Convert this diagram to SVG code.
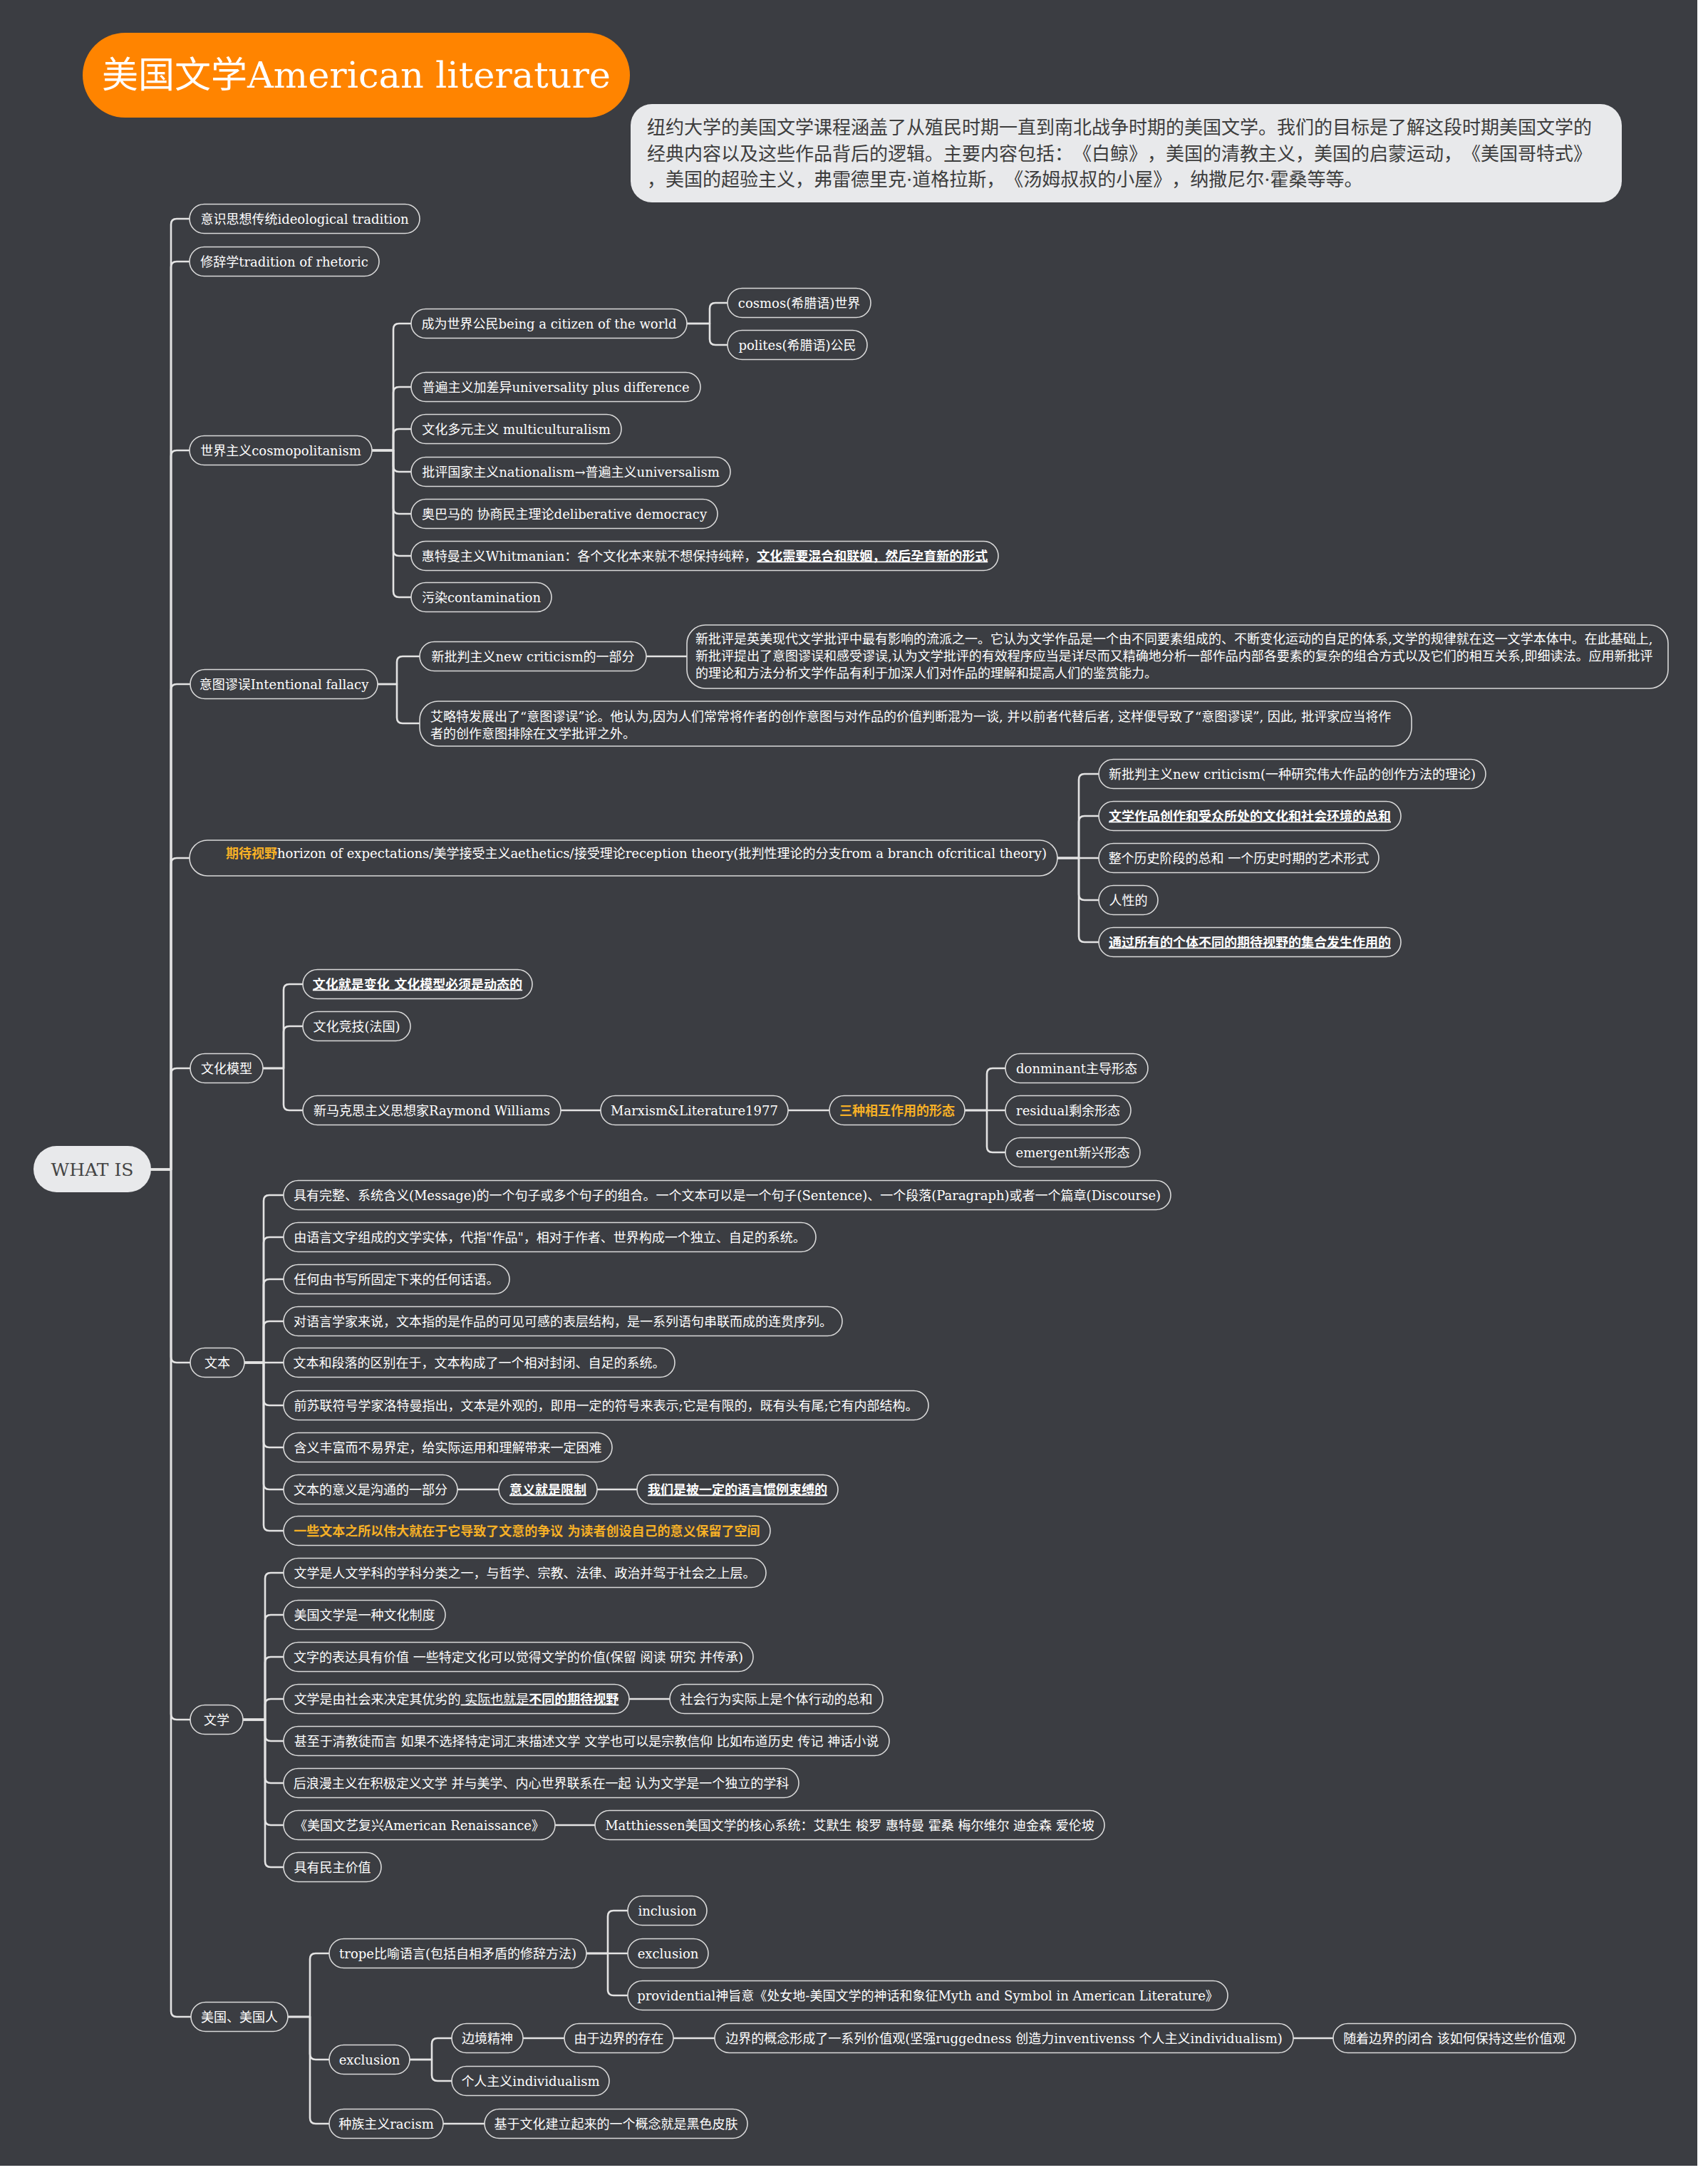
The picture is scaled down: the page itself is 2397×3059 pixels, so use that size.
<svg xmlns="http://www.w3.org/2000/svg" width="2397" height="3059" viewBox="0 0 2397 3059">
<style>
text{text-spacing-trim:space-all}
.n{fill:#3b3d42;stroke:#d9d9d9;stroke-width:1.6}
.t{font-family:"DejaVu Serif","Noto Sans CJK SC",serif;font-size:18px;fill:#ffffff;text-anchor:middle}
.tl{font-family:"DejaVu Serif","Noto Sans CJK SC",serif;font-size:18px;fill:#ffffff;text-anchor:start}
.b{font-weight:bold}
.u{text-decoration:underline}
.o{fill:#f6b026;font-weight:bold}
.c{fill:none;stroke:#e3e3e3;stroke-width:2.6;stroke-linecap:round;stroke-linejoin:round}
</style>
<rect x="0" y="0" width="2397" height="3059" fill="#ffffff"/>
<rect x="0" y="0" width="2382" height="3039" fill="#3b3d42"/>

<g id="title">
<rect x="116" y="46" width="768" height="119" rx="59.5" fill="#ff8400"/>
<text x="500" y="123" font-family="DejaVu Serif,Noto Sans CJK SC,serif" font-size="51" fill="#ffffff" text-anchor="middle">美国文学American literature</text>
</g>
<g id="description">
<rect x="885" y="146" width="1391" height="138" rx="30" fill="#e8e9eb"/>
<text font-family="DejaVu Serif,Noto Sans CJK SC,serif" font-size="26" fill="#3d3d3d">
<tspan x="908" y="188">纽约大学的美国文学课程涵盖了从殖民时期一直到南北战争时期的美国文学。我们的目标是了解这段时期美国文学的</tspan>
<tspan x="908" y="225">经典内容以及这些作品背后的逻辑。主要内容包括：《白鲸》，美国的清教主义，美国的启蒙运动，《美国哥特式》</tspan>
<tspan x="908" y="261">，美国的超验主义，弗雷德里克·道格拉斯，《汤姆叔叔的小屋》，纳撒尼尔·霍桑等等。</tspan>
</text>
</g>

<g id="connectors">
<path class="c" d="M212 1641H240V315Q240 307 248 307H266"/>
<path class="c" d="M212 1641H240V375Q240 367 248 367H266"/>
<path class="c" d="M212 1641H240V640Q240 632 248 632H266"/>
<path class="c" d="M212 1641H240V968Q240 960 248 960H267"/>
<path class="c" d="M212 1641H240V1212Q240 1204 248 1204H266"/>
<path class="c" d="M212 1641H240V1507Q240 1499 248 1499H267"/>
<path class="c" d="M212 1641H240V1904Q240 1912 248 1912H267"/>
<path class="c" d="M212 1641H240V2405Q240 2413 248 2413H267"/>
<path class="c" d="M212 1641H240V2822Q240 2830 248 2830H268"/>

<path class="c" d="M522 632H552V462Q552 454 560 454H577"/>
<path class="c" d="M522 632H552V551Q552 543 560 543H577"/>
<path class="c" d="M522 632H552V610Q552 602 560 602H577"/>
<path class="c" d="M522 632H552V654Q552 662 560 662H577"/>
<path class="c" d="M522 632H552V713Q552 721 560 721H577"/>
<path class="c" d="M522 632H552V772Q552 780 560 780H577"/>
<path class="c" d="M522 632H552V830Q552 838 560 838H577"/>
<path class="c" d="M964 454H996V433Q996 425 1004 425H1021"/>
<path class="c" d="M964 454H996V476Q996 484 1004 484H1021"/>

<path class="c" d="M530 960H557V929Q557 921 565 921H589"/>
<path class="c" d="M530 960H557V1007Q557 1015 565 1015H589"/>
<path class="c" d="M907 921H964"/>

<path class="c" d="M1484 1204H1514V1094Q1514 1086 1522 1086H1542"/>
<path class="c" d="M1484 1204H1514V1153Q1514 1145 1522 1145H1542"/>
<path class="c" d="M1484 1204H1542"/>
<path class="c" d="M1484 1204H1514V1255Q1514 1263 1522 1263H1542"/>
<path class="c" d="M1484 1204H1514V1314Q1514 1322 1522 1322H1542"/>

<path class="c" d="M369 1499H398V1389Q398 1381 406 1381H425"/>
<path class="c" d="M369 1499H398V1448Q398 1440 406 1440H425"/>
<path class="c" d="M369 1499H398V1550Q398 1558 406 1558H425"/>
<path class="c" d="M787 1558H843"/>
<path class="c" d="M1106 1558H1164"/>
<path class="c" d="M1354 1558H1385V1507Q1385 1499 1393 1499H1411"/>
<path class="c" d="M1354 1558H1411"/>
<path class="c" d="M1354 1558H1385V1609Q1385 1617 1393 1617H1411"/>

<path class="c" d="M343 1912H370V1685Q370 1677 378 1677H398"/>
<path class="c" d="M343 1912H370V1744Q370 1736 378 1736H398"/>
<path class="c" d="M343 1912H370V1803Q370 1795 378 1795H398"/>
<path class="c" d="M343 1912H370V1862Q370 1854 378 1854H398"/>
<path class="c" d="M343 1912H398"/>
<path class="c" d="M343 1912H370V1964Q370 1972 378 1972H398"/>
<path class="c" d="M343 1912H370V2023Q370 2031 378 2031H398"/>
<path class="c" d="M343 1912H370V2082Q370 2090 378 2090H398"/>
<path class="c" d="M343 1912H370V2140Q370 2148 378 2148H398"/>
<path class="c" d="M642 2090H700"/>
<path class="c" d="M838 2090H894"/>

<path class="c" d="M341 2413H372V2215Q372 2207 380 2207H398"/>
<path class="c" d="M341 2413H372V2274Q372 2266 380 2266H398"/>
<path class="c" d="M341 2413H372V2333Q372 2325 380 2325H398"/>
<path class="c" d="M341 2413H372V2392Q372 2384 380 2384H398"/>
<path class="c" d="M341 2413H372V2435Q372 2443 380 2443H398"/>
<path class="c" d="M341 2413H372V2494Q372 2502 380 2502H398"/>
<path class="c" d="M341 2413H372V2553Q372 2561 380 2561H398"/>
<path class="c" d="M341 2413H372V2612Q372 2620 380 2620H398"/>
<path class="c" d="M883 2384H940"/>
<path class="c" d="M779 2561H835"/>

<path class="c" d="M404 2830H435V2749Q435 2741 443 2741H462"/>
<path class="c" d="M404 2830H435V2882Q435 2890 443 2890H462"/>
<path class="c" d="M404 2830H435V2972Q435 2980 443 2980H462"/>
<path class="c" d="M823 2741H853V2689Q853 2681 861 2681H881"/>
<path class="c" d="M823 2741H881"/>
<path class="c" d="M823 2741H853V2792Q853 2800 861 2800H881"/>
<path class="c" d="M575 2890H606V2868Q606 2860 614 2860H634"/>
<path class="c" d="M575 2890H606V2912Q606 2920 614 2920H634"/>
<path class="c" d="M734 2860H792"/>
<path class="c" d="M945 2860H1003"/>
<path class="c" d="M1815 2860H1871"/>
<path class="c" d="M622 2980H680"/>
</g>

<g id="root">
<rect x="47" y="1608" width="165" height="65" rx="32.5" fill="#e8e9eb"/>
<text x="129.5" y="1650" font-family="DejaVu Serif,serif" font-size="25" fill="#454545" text-anchor="middle">WHAT IS</text>
</g>

<g id="n-ideological"><rect class="n" x="266" y="286.5" width="323" height="41" rx="20.5"/><text class="t" x="427.5" y="313.5">意识思想传统ideological tradition</text></g>
<g id="n-rhetoric"><rect class="n" x="266" y="346.5" width="266" height="41" rx="20.5"/><text class="t" x="399" y="373.5">修辞学tradition of rhetoric</text></g>
<g id="n-cosmo"><rect class="n" x="266" y="611.5" width="256" height="41" rx="20.5"/><text class="t" x="394" y="638.5">世界主义cosmopolitanism</text></g>
<g id="n-intentional"><rect class="n" x="267" y="939.5" width="263" height="41" rx="20.5"/><text class="t" x="398.5" y="966.5">意图谬误Intentional fallacy</text></g>
<g id="n-horizon"><rect class="n" x="266" y="1179" width="1218" height="50" rx="25"/><text class="tl" x="317" y="1204"><tspan class="o">期待视野</tspan>horizon of expectations/美学接受主义aethetics/接受理论reception theory(批判性理论的分支from a branch ofcritical theory)</text></g>
<g id="n-culture-model"><rect class="n" x="267" y="1478.5" width="102" height="41" rx="20.5"/><text class="t" x="318" y="1505.5">文化模型</text></g>
<g id="n-text"><rect class="n" x="267" y="1891.5" width="76" height="41" rx="20.5"/><text class="t" x="305" y="1918.5">文本</text></g>
<g id="n-literature"><rect class="n" x="267" y="2392.5" width="74" height="41" rx="20.5"/><text class="t" x="304" y="2419.5">文学</text></g>
<g id="n-america"><rect class="n" x="268" y="2809.5" width="136" height="41" rx="20.5"/><text class="t" x="336" y="2836.5">美国、美国人</text></g>

<g id="n-citizen"><rect class="n" x="577" y="433.5" width="387" height="41" rx="20.5"/><text class="t" x="770.5" y="460.5">成为世界公民being a citizen of the world</text></g>
<g id="n-cosmos"><rect class="n" x="1021" y="404.5" width="201" height="41" rx="20.5"/><text class="t" x="1121.5" y="431.5">cosmos(希腊语)世界</text></g>
<g id="n-polites"><rect class="n" x="1021" y="463.5" width="196" height="41" rx="20.5"/><text class="t" x="1119" y="490.5">polites(希腊语)公民</text></g>
<g id="n-universality"><rect class="n" x="577" y="522.5" width="406" height="41" rx="20.5"/><text class="t" x="780" y="549.5">普遍主义加差异universality plus difference</text></g>
<g id="n-multi"><rect class="n" x="577" y="581.5" width="295" height="41" rx="20.5"/><text class="t" x="724.5" y="608.5">文化多元主义 multiculturalism</text></g>
<g id="n-nationalism"><rect class="n" x="577" y="641.5" width="448" height="41" rx="20.5"/><text class="t" x="801" y="668.5">批评国家主义nationalism→普遍主义universalism</text></g>
<g id="n-obama"><rect class="n" x="577" y="700.5" width="430" height="41" rx="20.5"/><text class="t" x="792" y="727.5">奥巴马的 协商民主理论deliberative democracy</text></g>
<g id="n-whitman"><rect class="n" x="577" y="759.5" width="824" height="41" rx="20.5"/><text class="t" x="989" y="786.5">惠特曼主义Whitmanian：各个文化本来就不想保持纯粹，<tspan class="b u">文化需要混合和联姻，然后孕育新的形式</tspan></text></g>
<g id="n-contamination"><rect class="n" x="577" y="817.5" width="197" height="41" rx="20.5"/><text class="t" x="675.5" y="844.5">污染contamination</text></g>

<g id="n-newcrit-part"><rect class="n" x="589" y="900.5" width="318" height="41" rx="20.5"/><text class="t" x="748" y="927.5">新批判主义new criticism的一部分</text></g>
<g id="n-newcrit-desc"><rect class="n" x="964" y="877" width="1377" height="89" rx="26"/><text class="tl"><tspan x="976" y="903">新批评是英美现代文学批评中最有影响的流派之一。它认为文学作品是一个由不同要素组成的、不断变化运动的自足的体系,文学的规律就在这一文学本体中。在此基础上,</tspan><tspan x="976" y="927">新批评提出了意图谬误和感受谬误,认为文学批评的有效程序应当是详尽而又精确地分析一部作品内部各要素的复杂的组合方式以及它们的相互关系,即细读法。应用新批评</tspan><tspan x="976" y="951">的理论和方法分析文学作品有利于加深人们对作品的理解和提高人们的鉴赏能力。</tspan></text></g>
<g id="n-eliot"><rect class="n" x="589" y="984" width="1392" height="63" rx="26"/><text class="tl"><tspan x="604" y="1012">艾略特发展出了“意图谬误”论。他认为,因为人们常常将作者的创作意图与对作品的价值判断混为一谈, 并以前者代替后者, 这样便导致了“意图谬误”, 因此, 批评家应当将作</tspan><tspan x="604" y="1036">者的创作意图排除在文学批评之外。</tspan></text></g>

<g id="n-h1"><rect class="n" x="1542" y="1065.5" width="543" height="41" rx="20.5"/><text class="t" x="1813.5" y="1092.5">新批判主义new criticism(一种研究伟大作品的创作方法的理论)</text></g>
<g id="n-h2"><rect class="n" x="1542" y="1124.5" width="424" height="41" rx="20.5"/><text class="t b u" x="1754" y="1151.5">文学作品创作和受众所处的文化和社会环境的总和</text></g>
<g id="n-h3"><rect class="n" x="1542" y="1183.5" width="393" height="41" rx="20.5"/><text class="t" x="1738.5" y="1210.5">整个历史阶段的总和 一个历史时期的艺术形式</text></g>
<g id="n-h4"><rect class="n" x="1542" y="1242.5" width="83" height="41" rx="20.5"/><text class="t" x="1583.5" y="1269.5">人性的</text></g>
<g id="n-h5"><rect class="n" x="1542" y="1301.5" width="424" height="41" rx="20.5"/><text class="t b u" x="1754" y="1328.5">通过所有的个体不同的期待视野的集合发生作用的</text></g>

<g id="n-cm1"><rect class="n" x="425" y="1360.5" width="322" height="41" rx="20.5"/><text class="t b u" x="586" y="1387.5">文化就是变化 文化模型必须是动态的</text></g>
<g id="n-cm2"><rect class="n" x="425" y="1419.5" width="151" height="41" rx="20.5"/><text class="t" x="500.5" y="1446.5">文化竞技(法国)</text></g>
<g id="n-williams"><rect class="n" x="425" y="1537.5" width="362" height="41" rx="20.5"/><text class="t" x="606" y="1564.5">新马克思主义思想家Raymond Williams</text></g>
<g id="n-marxism"><rect class="n" x="843" y="1537.5" width="263" height="41" rx="20.5"/><text class="t" x="974.5" y="1564.5">Marxism&amp;Literature1977</text></g>
<g id="n-three"><rect class="n" x="1164" y="1537.5" width="190" height="41" rx="20.5"/><text class="t o" x="1259" y="1564.5">三种相互作用的形态</text></g>
<g id="n-dominant"><rect class="n" x="1411" y="1478.5" width="200" height="41" rx="20.5"/><text class="t" x="1511" y="1505.5">donminant主导形态</text></g>
<g id="n-residual"><rect class="n" x="1411" y="1537.5" width="176" height="41" rx="20.5"/><text class="t" x="1499" y="1564.5">residual剩余形态</text></g>
<g id="n-emergent"><rect class="n" x="1411" y="1596.5" width="189" height="41" rx="20.5"/><text class="t" x="1505.5" y="1623.5">emergent新兴形态</text></g>

<g id="n-t1"><rect class="n" x="398" y="1656.5" width="1245" height="41" rx="20.5"/><text class="t" x="1020.5" y="1683.5">具有完整、系统含义(Message)的一个句子或多个句子的组合。一个文本可以是一个句子(Sentence)、一个段落(Paragraph)或者一个篇章(Discourse)</text></g>
<g id="n-t2"><rect class="n" x="398" y="1715.5" width="747" height="41" rx="20.5"/><text class="t" x="771.5" y="1742.5">由语言文字组成的文学实体，代指"作品"，相对于作者、世界构成一个独立、自足的系统。</text></g>
<g id="n-t3"><rect class="n" x="398" y="1774.5" width="317" height="41" rx="20.5"/><text class="t" x="556.5" y="1801.5">任何由书写所固定下来的任何话语。</text></g>
<g id="n-t4"><rect class="n" x="398" y="1833.5" width="784" height="41" rx="20.5"/><text class="t" x="790" y="1860.5">对语言学家来说，文本指的是作品的可见可感的表层结构，是一系列语句串联而成的连贯序列。</text></g>
<g id="n-t5"><rect class="n" x="398" y="1891.5" width="549" height="41" rx="20.5"/><text class="t" x="672.5" y="1918.5">文本和段落的区别在于，文本构成了一个相对封闭、自足的系统。</text></g>
<g id="n-t6"><rect class="n" x="398" y="1951.5" width="905" height="41" rx="20.5"/><text class="t" x="850.5" y="1978.5">前苏联符号学家洛特曼指出，文本是外观的，即用一定的符号来表示;它是有限的，既有头有尾;它有内部结构。</text></g>
<g id="n-t7"><rect class="n" x="398" y="2010.5" width="461" height="41" rx="20.5"/><text class="t" x="628.5" y="2037.5">含义丰富而不易界定，给实际运用和理解带来一定困难</text></g>
<g id="n-t8"><rect class="n" x="398" y="2069.5" width="244" height="41" rx="20.5"/><text class="t" x="520" y="2096.5">文本的意义是沟通的一部分</text></g>
<g id="n-t8a"><rect class="n" x="700" y="2069.5" width="138" height="41" rx="20.5"/><text class="t b u" x="769" y="2096.5">意义就是限制</text></g>
<g id="n-t8b"><rect class="n" x="894" y="2069.5" width="282" height="41" rx="20.5"/><text class="t b u" x="1035" y="2096.5">我们是被一定的语言惯例束缚的</text></g>
<g id="n-t9"><rect class="n" x="398" y="2127.5" width="683" height="41" rx="20.5"/><text class="t o" x="739.5" y="2154.5">一些文本之所以伟大就在于它导致了文意的争议 为读者创设自己的意义保留了空间</text></g>

<g id="n-l1"><rect class="n" x="398" y="2186.5" width="677" height="41" rx="20.5"/><text class="t" x="736.5" y="2213.5">文学是人文学科的学科分类之一，与哲学、宗教、法律、政治并驾于社会之上层。</text></g>
<g id="n-l2"><rect class="n" x="398" y="2245.5" width="227" height="41" rx="20.5"/><text class="t" x="511.5" y="2272.5">美国文学是一种文化制度</text></g>
<g id="n-l3"><rect class="n" x="398" y="2304.5" width="659" height="41" rx="20.5"/><text class="t" x="727.5" y="2331.5">文字的表达具有价值 一些特定文化可以觉得文学的价值(保留 阅读 研究 并传承)</text></g>
<g id="n-l4"><rect class="n" x="398" y="2363.5" width="485" height="41" rx="20.5"/><text class="t" x="640.5" y="2390.5">文学是由社会来决定其优劣的<tspan class="u"> 实际也就是</tspan><tspan class="b u">不同的期待视野</tspan></text></g>
<g id="n-l4a"><rect class="n" x="940" y="2363.5" width="299" height="41" rx="20.5"/><text class="t" x="1089.5" y="2390.5">社会行为实际上是个体行动的总和</text></g>
<g id="n-l5"><rect class="n" x="398" y="2422.5" width="850" height="41" rx="20.5"/><text class="t" x="823" y="2449.5">甚至于清教徒而言 如果不选择特定词汇来描述文学 文学也可以是宗教信仰 比如布道历史 传记 神话小说</text></g>
<g id="n-l6"><rect class="n" x="398" y="2481.5" width="723" height="41" rx="20.5"/><text class="t" x="759.5" y="2508.5">后浪漫主义在积极定义文学 并与美学、内心世界联系在一起 认为文学是一个独立的学科</text></g>
<g id="n-l7"><rect class="n" x="398" y="2540.5" width="381" height="41" rx="20.5"/><text class="t" x="588.5" y="2567.5">《美国文艺复兴American Renaissance》</text></g>
<g id="n-l7a"><rect class="n" x="835" y="2540.5" width="715" height="41" rx="20.5"/><text class="t" x="1192.5" y="2567.5">Matthiessen美国文学的核心系统：艾默生 梭罗 惠特曼 霍桑 梅尔维尔 迪金森 爱伦坡</text></g>
<g id="n-l8"><rect class="n" x="398" y="2599.5" width="137" height="41" rx="20.5"/><text class="t" x="466.5" y="2626.5">具有民主价值</text></g>

<g id="n-trope"><rect class="n" x="462" y="2720.5" width="361" height="41" rx="20.5"/><text class="t" x="642.5" y="2747.5">trope比喻语言(包括自相矛盾的修辞方法)</text></g>
<g id="n-inclusion"><rect class="n" x="881" y="2660.5" width="111" height="41" rx="20.5"/><text class="t" x="936.5" y="2687.5">inclusion</text></g>
<g id="n-exclusion2"><rect class="n" x="881" y="2720.5" width="113" height="41" rx="20.5"/><text class="t" x="937.5" y="2747.5">exclusion</text></g>
<g id="n-providential"><rect class="n" x="881" y="2779.5" width="842" height="41" rx="20.5"/><text class="t" x="1302" y="2806.5">providential神旨意《处女地-美国文学的神话和象征Myth and Symbol in American Literature》</text></g>
<g id="n-exclusion"><rect class="n" x="462" y="2869.5" width="113" height="41" rx="20.5"/><text class="t" x="518.5" y="2896.5">exclusion</text></g>
<g id="n-frontier"><rect class="n" x="634" y="2839.5" width="100" height="41" rx="20.5"/><text class="t" x="684" y="2866.5">边境精神</text></g>
<g id="n-border"><rect class="n" x="792" y="2839.5" width="153" height="41" rx="20.5"/><text class="t" x="868.5" y="2866.5">由于边界的存在</text></g>
<g id="n-values"><rect class="n" x="1003" y="2839.5" width="812" height="41" rx="20.5"/><text class="t" x="1409" y="2866.5">边界的概念形成了一系列价值观(坚强ruggedness 创造力inventivenss 个人主义individualism)</text></g>
<g id="n-closing"><rect class="n" x="1871" y="2839.5" width="340" height="41" rx="20.5"/><text class="t" x="2041" y="2866.5">随着边界的闭合 该如何保持这些价值观</text></g>
<g id="n-individualism"><rect class="n" x="634" y="2899.5" width="221" height="41" rx="20.5"/><text class="t" x="744.5" y="2926.5">个人主义individualism</text></g>
<g id="n-racism"><rect class="n" x="462" y="2959.5" width="160" height="41" rx="20.5"/><text class="t" x="542" y="2986.5">种族主义racism</text></g>
<g id="n-skin"><rect class="n" x="680" y="2959.5" width="369" height="41" rx="20.5"/><text class="t" x="864.5" y="2986.5">基于文化建立起来的一个概念就是黑色皮肤</text></g>
</svg>
